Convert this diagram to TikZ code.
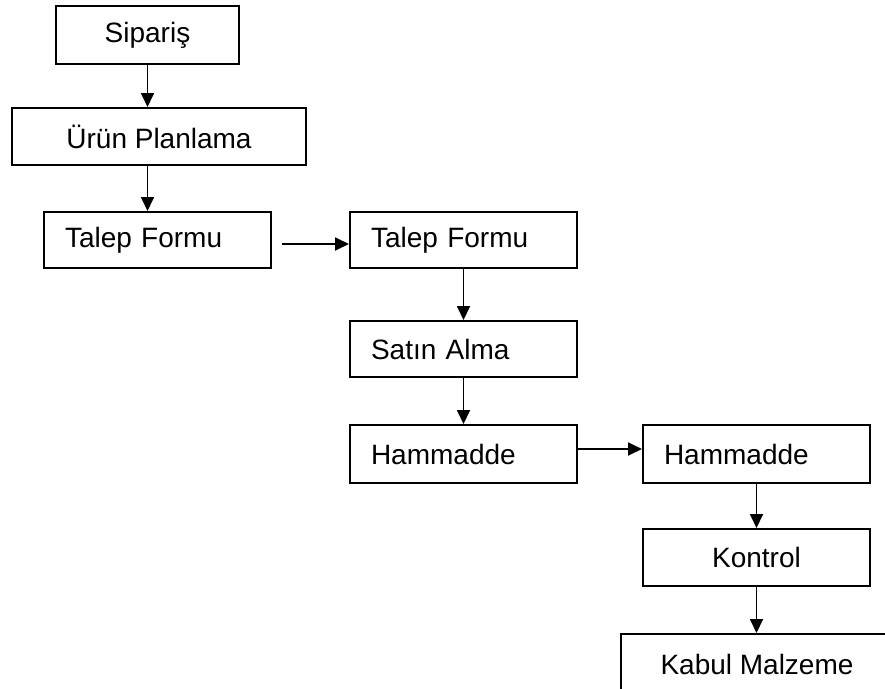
\documentclass[tikz,border=0pt]{standalone}
\usepackage{fontspec}
\setmainfont{Liberation Sans}
\usetikzlibrary{arrows.meta}

\begin{document}
\begin{tikzpicture}[x=1pt,y=-1pt,font=\fontsize{28pt}{33pt}\selectfont,
    kutu/.style={draw,line width=2pt,anchor=north west,inner sep=0pt,minimum height=57pt},
    solkutu/.style={kutu,text width=185pt,inner xsep=21pt,align=left},
    ok/.style={line width=1.8pt,-{Triangle[length=14pt,width=13pt]}}]
  \useasboundingbox (0,0) rectangle (885,688);
  \clip (0,0) rectangle (885,688);
  % left column
  \node[kutu,minimum width=183pt,minimum height=58pt] (sip) at (55,5) {Sipariş};
  \node[kutu,minimum width=294pt] (urun) at (11,107) {Ürün Planlama};
  \node[solkutu,minimum height=56pt] (talepA) at (43,211) {Talep Formu};
  % middle column
  \node[solkutu,minimum height=56pt] (talepB) at (349,211) {Talep Formu};
  \node[solkutu,minimum height=56pt] (satin) at (349,320) {Satın Alma};
  \node[solkutu,minimum height=58pt] (hamA) at (349,424) {Hammadde};
  % right column
  \node[solkutu,minimum height=58pt] (hamB) at (642,424) {Hammadde};
  \node[kutu,minimum width=227pt] (kontrol) at (642,528) {Kontrol};
  \node[kutu,minimum width=272pt,minimum height=60pt] (kabul) at (620,633) {Kabul Malzeme};
  \coordinate (tA) at (282,244);
  % arrows
  \draw[ok] (sip.south) -- (sip.south |- urun.north);
  \draw[ok] (sip.south |- urun.south) -- (sip.south |- talepA.north);
  \draw[ok] (tA) -- (tA -| talepB.west);
  \draw[ok] (talepB.south) -- (satin.north);
  \draw[ok] (satin.south) -- (hamA.north);
  \draw[ok] ([yshift=5pt]hamA.east) -- ([yshift=5pt]hamB.west);
  \draw[ok] (hamB.south) -- (kontrol.north);
  \draw[ok] (kontrol.south) -- (kontrol.south |- kabul.north);
\end{tikzpicture}
\end{document}
